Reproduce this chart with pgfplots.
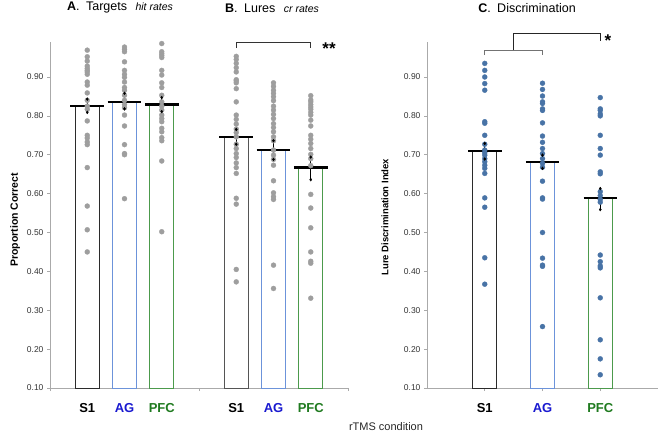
\documentclass[border=0pt]{standalone}
\usepackage{pgfplots}
\pgfplotsset{compat=1.18}
\usepackage{fontspec}
\setmainfont{Liberation Sans}
\definecolor{axgray}{HTML}{AAAAAA}
\definecolor{tickc}{HTML}{333333}
\definecolor{dotgray}{HTML}{9E9E9E}
\definecolor{dotblue}{HTML}{4873A6}
\definecolor{sone}{HTML}{2B2B2B}
\definecolor{soneb}{HTML}{555555}
\definecolor{agedge}{HTML}{6C93DA}
\definecolor{pfcedge}{HTML}{4C9A4C}
\definecolor{aglab}{HTML}{1A1AD0}
\definecolor{pfclab}{HTML}{1F7A1F}
\pgfplotsset{mystyle/.style={anchor=south west, scale only axis, ymin=0.1, ymax=0.99, clip=false,
  axis x line*=bottom, axis y line*=left, axis line style={draw=axgray, line width=0.8pt},
  tick align=outside, major tick length=3pt, tick style={draw=axgray, line width=0.6pt},
  ytick={0.1,0.2,0.3,0.4,0.5,0.6,0.7,0.8,0.9},
  yticklabel style={font=\fontsize{8.5}{9}\selectfont, text=tickc, /pgf/number format/.cd, fixed, fixed zerofill, precision=2, assume math mode=true},
  xticklabels={}},
  subj/.style={only marks, color=#1, mark=*, mark size=2.5pt, mark options={draw=#1, fill=#1, line width=0.3pt}},
  meanl/.style={black, line width=2.2pt},
  errb/.style={black, line width=1.2pt, mark=diamond*, mark size=1.4pt, mark options={solid, black, line width=0.4pt}}
}
\tikzset{catlab/.style={font=\bfseries\fontsize{13}{14}\selectfont, yshift=-20pt}}
\begin{document}
\begin{tikzpicture}
\useasboundingbox (0,0) rectangle (660pt,434pt);
% ---------------- Panels A and B ----------------
\begin{axis}[mystyle, at={(50pt,46pt)}, width=298pt, height=346pt,
  xmin=0, xmax=8, xtick={0,4,8},
  ylabel={Proportion Correct},
  ylabel style={font=\bfseries\fontsize{10.5}{12}\selectfont, at={(axis description cs:-0.117,0.486)}, anchor=center}]
% bars
\addplot[draw=sone, line width=1pt, fill=white] coordinates {(1,0.1)(0.68,0.1)(0.68,0.826)(1.32,0.826)(1.32,0.1)(1,0.1)};
\addplot[draw=agedge, line width=1pt, fill=white] coordinates {(2,0.1)(1.68,0.1)(1.68,0.835)(2.32,0.835)(2.32,0.1)(2,0.1)};
\addplot[draw=pfcedge, line width=1pt, fill=white] coordinates {(3,0.1)(2.68,0.1)(2.68,0.829)(3.32,0.829)(3.32,0.1)(3,0.1)};
\addplot[draw=soneb, line width=1pt, fill=white] coordinates {(5,0.1)(4.68,0.1)(4.68,0.746)(5.32,0.746)(5.32,0.1)(5,0.1)};
\addplot[draw=agedge, line width=1pt, fill=white] coordinates {(6,0.1)(5.68,0.1)(5.68,0.712)(6.32,0.712)(6.32,0.1)(6,0.1)};
\addplot[draw=pfcedge, line width=1pt, fill=white] coordinates {(7,0.1)(6.68,0.1)(6.68,0.667)(7.32,0.667)(7.32,0.1)(7,0.1)};
% individual subjects
\addplot[subj=dotgray] table[header=false, x expr=1, y index=0, row sep=\\] {0.969\\0.952\\0.941\\0.928\\0.922\\0.917\\0.913\\0.907\\0.887\\0.879\\0.859\\0.840\\0.825\\0.817\\0.787\\0.750\\0.743\\0.733\\0.726\\0.667\\0.568\\0.507\\0.450\\};
\addplot[subj=dotgray] table[header=false, x expr=2, y index=0, row sep=\\] {0.977\\0.971\\0.965\\0.939\\0.917\\0.907\\0.899\\0.887\\0.873\\0.866\\0.853\\0.840\\0.829\\0.821\\0.802\\0.774\\0.726\\0.703\\0.700\\0.587\\};
\addplot[subj=dotgray] table[header=false, x expr=3, y index=0, row sep=\\] {0.986\\0.965\\0.960\\0.955\\0.950\\0.917\\0.905\\0.885\\0.873\\0.853\\0.836\\0.825\\0.815\\0.802\\0.793\\0.785\\0.768\\0.759\\0.744\\0.736\\0.684\\0.502\\};
\addplot[subj=dotgray] table[header=false, x expr=5, y index=0, row sep=\\] {0.953\\0.945\\0.935\\0.924\\0.913\\0.893\\0.890\\0.885\\0.870\\0.836\\0.802\\0.791\\0.779\\0.766\\0.757\\0.746\\0.727\\0.716\\0.703\\0.693\\0.679\\0.667\\0.652\\0.588\\0.573\\0.405\\0.373\\};
\addplot[subj=dotgray] table[header=false, x expr=6, y index=0, row sep=\\] {0.885\\0.876\\0.866\\0.858\\0.849\\0.839\\0.825\\0.815\\0.804\\0.793\\0.780\\0.770\\0.759\\0.746\\0.736\\0.712\\0.699\\0.688\\0.673\\0.633\\0.602\\0.592\\0.585\\0.416\\0.356\\};
\addplot[subj=dotgray] table[header=false, x expr=7, y index=0, row sep=\\] {0.852\\0.841\\0.836\\0.829\\0.823\\0.817\\0.809\\0.802\\0.789\\0.774\\0.750\\0.740\\0.729\\0.716\\0.701\\0.690\\0.672\\0.598\\0.563\\0.512\\0.450\\0.426\\0.421\\0.331\\};
% means
\addplot[meanl] coordinates {(0.55,0.826)(1.45,0.826)};
\addplot[meanl] coordinates {(1.55,0.835)(2.45,0.835)};
\addplot[meanl] coordinates {(2.55,0.829)(3.45,0.829)};
\addplot[meanl] coordinates {(4.55,0.746)(5.45,0.746)};
\addplot[meanl] coordinates {(5.55,0.712)(6.45,0.712)};
\addplot[meanl] coordinates {(6.55,0.667)(7.45,0.667)};
% error bars (mean +- SE)
\addplot[errb] coordinates {(1,0.809)(1,0.843)};
\addplot[errb] coordinates {(2,0.818)(2,0.858)};
\addplot[errb] coordinates {(3,0.811)(3,0.847)};
\addplot[errb] coordinates {(5,0.727)(5,0.765)};
\addplot[errb] coordinates {(6,0.688)(6,0.736)};
\addplot[errb] coordinates {(7,0.636)(7,0.694)};
% significance bracket
\addplot[draw=black!80, line width=0.8pt] coordinates {(5,0.974)(5,0.989)(7,0.989)(7,0.974)};
% category labels
\node[catlab, text=black] at (axis cs:1,0.1) {S1};
\node[catlab, text=aglab] at (axis cs:2,0.1) {AG};
\node[catlab, text=pfclab] at (axis cs:3,0.1) {PFC};
\node[catlab, text=black] at (axis cs:5,0.1) {S1};
\node[catlab, text=aglab] at (axis cs:6,0.1) {AG};
\node[catlab, text=pfclab] at (axis cs:7,0.1) {PFC};
\end{axis}
% ---------------- Panel C ----------------
\begin{axis}[mystyle, at={(427pt,46pt)}, width=231pt, height=346pt,
  xmin=0, xmax=4, xtick={1,2,3},
  ylabel={Lure Discrimination Index},
  ylabel style={font=\bfseries\fontsize{9.5}{11}\selectfont, at={(axis description cs:-0.182,0.494)}, anchor=center}]
\addplot[draw=sone, line width=1pt, fill=white] coordinates {(1,0.1)(0.79,0.1)(0.79,0.710)(1.21,0.710)(1.21,0.1)(1,0.1)};
\addplot[draw=agedge, line width=1pt, fill=white] coordinates {(2,0.1)(1.79,0.1)(1.79,0.682)(2.21,0.682)(2.21,0.1)(2,0.1)};
\addplot[draw=pfcedge, line width=1pt, fill=white] coordinates {(3,0.1)(2.79,0.1)(2.79,0.588)(3.21,0.588)(3.21,0.1)(3,0.1)};
\addplot[subj=dotblue] table[header=false, x expr=1, y index=0, row sep=\\] {0.935\\0.917\\0.900\\0.883\\0.866\\0.785\\0.781\\0.750\\0.727\\0.712\\0.705\\0.699\\0.690\\0.682\\0.673\\0.665\\0.652\\0.589\\0.565\\0.435\\0.367\\};
\addplot[subj=dotblue] table[header=false, x expr=2, y index=0, row sep=\\] {0.884\\0.868\\0.851\\0.836\\0.832\\0.818\\0.814\\0.782\\0.748\\0.732\\0.716\\0.703\\0.690\\0.678\\0.668\\0.632\\0.589\\0.586\\0.500\\0.434\\0.416\\0.413\\0.258\\};
\addplot[subj=dotblue] table[header=false, x expr=3, y index=0, row sep=\\] {0.847\\0.818\\0.814\\0.805\\0.800\\0.750\\0.716\\0.699\\0.656\\0.651\\0.605\\0.595\\0.585\\0.578\\0.442\\0.425\\0.414\\0.409\\0.332\\0.224\\0.175\\0.134\\};
\addplot[meanl] coordinates {(0.71,0.710)(1.29,0.710)};
\addplot[meanl] coordinates {(1.71,0.682)(2.29,0.682)};
\addplot[meanl] coordinates {(2.71,0.588)(3.29,0.588)};
\addplot[errb] coordinates {(1,0.689)(1,0.729)};
\addplot[errb] coordinates {(2,0.665)(2,0.699)};
\addplot[errb] coordinates {(3,0.559)(3,0.613)};
\addplot[draw=black!55, line width=0.8pt] coordinates {(1,0.956)(1,0.969)(2,0.969)(2,0.956)};
\addplot[draw=black!85, line width=0.8pt] coordinates {(1.5,0.969)(1.5,1.013)(3,1.013)(3,0.992)};
\node[catlab, text=black] at (axis cs:1,0.1) {S1};
\node[catlab, text=aglab] at (axis cs:2,0.1) {AG};
\node[catlab, text=pfclab] at (axis cs:3,0.1) {PFC};
\end{axis}
% ---------------- titles and annotations ----------------
\node[font=\fontsize{12.5}{14}\selectfont] at (120pt,426pt) {\textbf{A}.\hspace{3pt} Targets\hspace{5pt} {\itshape\fontsize{10.5}{12}\selectfont hit rates}};
\node[font=\fontsize{12.5}{14}\selectfont] at (272pt,426pt) {\textbf{B}.\hspace{3pt} Lures\hspace{5pt} {\itshape\fontsize{10.5}{12}\selectfont cr rates}};
\node[font=\fontsize{12.5}{14}\selectfont] at (527pt,426pt) {\textbf{C}.\hspace{3pt} Discrimination};
\node[font=\fontsize{11}{13}\selectfont, text=black!85] at (386pt,7pt) {rTMS condition};
\node[font=\bfseries\fontsize{17}{17}\selectfont, anchor=base, inner sep=0pt] at (329pt,379pt) {**};
\node[font=\bfseries\fontsize{17}{17}\selectfont, anchor=base, inner sep=0pt] at (608pt,387pt) {*};
\end{tikzpicture}
\end{document}
